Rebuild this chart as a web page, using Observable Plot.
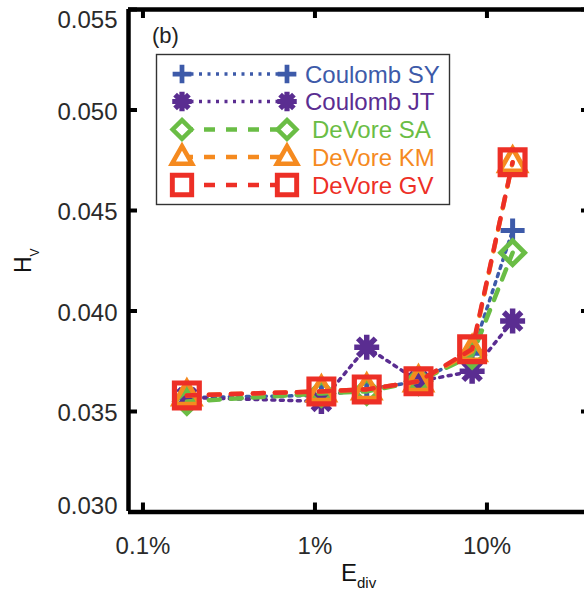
<!DOCTYPE html>
<html>
<head>
<meta charset="utf-8">
<script src="https://cdn.jsdelivr.net/npm/d3@7"></script>
<script src="https://cdn.jsdelivr.net/npm/@observablehq/plot@0.6"></script>
<style>
  body { margin: 0; background: #fff; }
  #chart { position: relative; width: 584px; height: 599px; overflow: hidden; }
  #chart svg { display: block; }
</style>
</head>
<body>
<div id="chart"></div>
<script>
// ---------- data ----------
const ediv = [0.18, 1.09, 2.0, 4.0, 8.2, 14.1];           // E_div in percent
const coulombSY = [0.0357, 0.0358, 0.0361, 0.0365, 0.0379, 0.0440];
const coulombJT = [0.0357, 0.0355, 0.0382, 0.0365, 0.0370, 0.0395];
const devoreSA  = [0.0355, 0.0359, 0.0360, 0.0365, 0.0378, 0.0429];
const devoreKM  = [0.0358, 0.0360, 0.0361, 0.0365, 0.0380, 0.0474];
const devoreGV  = [0.0358, 0.0360, 0.0361, 0.0365, 0.0381, 0.0474];
const seriesNames = ["Coulomb SY", "Coulomb JT", "DeVore SA", "DeVore KM", "DeVore GV"];
const seriesValues = [coulombSY, coulombJT, devoreSA, devoreKM, devoreGV];
const xTicks = [0.1, 1, 10];
const xTickLabels = ["0.1%", "1%", "10%"];
const yTicks = [0.030, 0.035, 0.040, 0.045, 0.050, 0.055];
const yTickLabels = ["0.030", "0.035", "0.040", "0.045", "0.050", "0.055"];

// ---------- styles ----------
function sym(fn) { return { draw(c, size) { fn(c, Math.sqrt(size / Math.PI)); } }; }
const symPlus = sym((c, r) => { c.moveTo(-r, 0); c.lineTo(r, 0); c.moveTo(0, -r); c.lineTo(0, r); });
const symStar = sym((c, r) => { const a = r * 0.7071;
  c.moveTo(-r, 0); c.lineTo(r, 0); c.moveTo(0, -r); c.lineTo(0, r);
  c.moveTo(-a, -a); c.lineTo(a, a); c.moveTo(-a, a); c.lineTo(a, -a); });
const symDiamond = sym((c, r) => { c.moveTo(0, -r); c.lineTo(r, 0); c.lineTo(0, r); c.lineTo(-r, 0); c.closePath(); });
const symTri = sym((c, r) => { c.moveTo(0, -r); c.lineTo(r * 0.92, r * 0.62); c.lineTo(-r * 0.92, r * 0.62); c.closePath(); });
const symSquare = sym((c, r) => { const s = r * 0.8; c.moveTo(-s, -s); c.lineTo(s, -s); c.lineTo(s, s); c.lineTo(-s, s); c.closePath(); });

const styles = [
  {color: "#3d5aa9", symbol: symPlus,    r: 12,   mw: 5,   dash: "3,5.5", lw: 3.5},
  {color: "#5a2d91", symbol: symStar,    r: 12.5, mw: 5.5, dash: "3,5.5", lw: 3.5},
  {color: "#6abd45", symbol: symDiamond, r: 12,   mw: 4.8, dash: "11,11", lw: 4.5},
  {color: "#f58a1f", symbol: symTri,     r: 14,   mw: 4.8, dash: "11,11", lw: 4.5},
  {color: "#ed2f26", symbol: symSquare,  r: 15.5, mw: 5.2, dash: "11,11", lw: 4.5}
];

// ---------- geometry ----------
const xRange = [128, 590], yRange = [511.5, 9];
const xDomain = [0.0824, 40], yDomain = [0.030, 0.055];
const xs = d3.scaleLog(xDomain, xRange), ys = d3.scaleLinear(yDomain, yRange);
const tickLen = 9;

const rows = seriesNames.map((name, k) => ediv.map((e, i) => ({e, v: seriesValues[k][i], name})));

const seriesMarks = rows.flatMap((data, k) => {
  const s = styles[k];
  return [
    Plot.line(data, {x: "e", y: "v", stroke: s.color, strokeWidth: s.lw, strokeDasharray: s.dash}),
    Plot.dot(data, {x: "e", y: "v", symbol: s.symbol, r: s.r, stroke: s.color, strokeWidth: s.mw,
                    fill: "none", strokeLinejoin: "miter"})
  ];
});

const yTickRows = yTicks.map((t, i) => ({t, label: yTickLabels[i]}));

const chart = Plot.plot({
  width: 584, height: 599,
  marginLeft: 128, marginRight: 0, marginTop: 9, marginBottom: 88,
  style: {fontFamily: "'Liberation Sans', Arial, sans-serif", background: "white", overflow: "hidden"},
  x: {type: "log", domain: xDomain, range: xRange, axis: null},
  y: {type: "linear", domain: yDomain, range: yRange, axis: null},
  marks: [
    ...seriesMarks,
    // frame (left, bottom, top)
    Plot.ruleY([yDomain[0]], {stroke: "black", strokeWidth: 4.5}),
    Plot.ruleY([yDomain[1]], {stroke: "black", strokeWidth: 4.5}),
    Plot.ruleX([xDomain[0]], {stroke: "black", strokeWidth: 4.5}),
    // inward ticks
    Plot.ruleX(xTicks, {x: d => d, y1: () => yDomain[0], y2: () => ys.invert(yRange[0] - tickLen), stroke: "black", strokeWidth: 4}),
    Plot.ruleX(xTicks, {x: d => d, y1: () => yDomain[1], y2: () => ys.invert(yRange[1] + tickLen), stroke: "black", strokeWidth: 4}),
    Plot.ruleY(yTicks, {y: d => d, x1: () => xDomain[0], x2: () => xs.invert(xRange[0] + tickLen), stroke: "black", strokeWidth: 4}),
    Plot.ruleY(yTicks, {y: d => d, x1: () => xDomain[1], x2: () => xs.invert(xRange[1] - tickLen), stroke: "black", strokeWidth: 4}),
    // tick labels
    Plot.text(xTicks, {x: d => d, y: () => yDomain[0], dy: 34, text: (d, i) => xTickLabels[i],
                       fontSize: 24, fill: "#2a2a2a"}),
    Plot.text(yTickRows.filter(d => d.t > 0.0301 && d.t < 0.0549), {x: () => xDomain[0], y: "t", dx: -11, dy: 2,
                       text: "label", textAnchor: "end", fontSize: 24, fill: "#2a2a2a"}),
    Plot.text(yTickRows.filter(d => d.t >= 0.0549), {x: () => xDomain[0], y: "t", dx: -11, dy: 11,
                       text: "label", textAnchor: "end", fontSize: 24, fill: "#2a2a2a"}),
    Plot.text(yTickRows.filter(d => d.t <= 0.0301), {x: () => xDomain[0], y: "t", dx: -11, dy: -6,
                       text: "label", textAnchor: "end", fontSize: 24, fill: "#2a2a2a"})
  ]
});
document.getElementById("chart").appendChild(chart);

// ---------- annotations & legend ----------
const svg = d3.select(chart);
const font = "'Liberation Sans', Arial, sans-serif";

// panel label
svg.append("text").attr("x", 152).attr("y", 43).attr("text-anchor", "start")
  .attr("font-size", 22).attr("font-family", font).attr("fill", "#222").text("(b)");

// y title H_V
const yt = svg.append("text").attr("transform", "translate(31,273) rotate(-90)").attr("text-anchor", "start")
  .attr("font-size", 23).attr("font-family", font).attr("fill", "#111");
yt.append("tspan").text("H");
yt.append("tspan").attr("font-size", 12).attr("dy", 8).text("V");

// x title E_div
const xt = svg.append("text").attr("x", 341).attr("y", 581).attr("text-anchor", "start")
  .attr("font-size", 24).attr("font-family", font).attr("fill", "#111");
xt.append("tspan").text("E");
xt.append("tspan").attr("font-size", 15).attr("dy", 7).text("div");

// legend
const lg = svg.append("g");
lg.append("rect").attr("x", 156.5).attr("y", 54.5).attr("width", 293).attr("height", 150)
  .attr("fill", "white").attr("stroke", "#333").attr("stroke-width", 1.4);
const rowY = [74, 101.5, 129.5, 157, 185];
seriesNames.forEach((name, k) => {
  const s = styles[k], y = rowY[k];
  lg.append("line").attr("x1", 182).attr("x2", 287).attr("y1", y).attr("y2", y)
    .attr("stroke", s.color).attr("stroke-width", s.lw).attr("stroke-dasharray", s.dash);
  const rr = s.r * 0.78;
  const p = d3.symbol(s.symbol, rr * rr * Math.PI)();
  [182, 287].forEach(x => {
    lg.append("path").attr("d", p).attr("transform", `translate(${x},${y})`)
      .attr("fill", "white").attr("stroke", s.color).attr("stroke-width", s.mw * 0.95)
      .attr("stroke-linejoin", "miter");
  });
  lg.append("text").attr("x", k < 2 ? 305 : 312).attr("y", y + 8.5).attr("text-anchor", "start")
    .attr("font-size", 24).attr("font-family", font).attr("fill", s.color).text(name);
});
</script>
</body>
</html>
